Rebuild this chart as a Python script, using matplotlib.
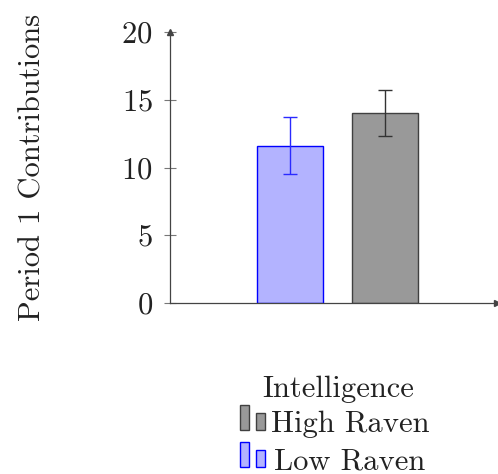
import numpy as np
import matplotlib
matplotlib.use("Agg")
import matplotlib.pyplot as plt
from matplotlib.patches import Rectangle

plt.rcParams['font.family'] = 'serif'
plt.rcParams['font.serif'] = ['cmr10']
plt.rcParams['axes.formatter.use_mathtext'] = True

groups = ["Low Raven", "High Raven"]
means = [11.6, 14.0]
errs = [2.1, 1.7]
fills = ["#b3b3ff", "#999999"]
edges = ["#0000ff", "#404040"]
ecols = ["#2a2aff", "#333333"]
yticks = [0, 5, 10, 15, 20]
legend_title = "Intelligence"
legend_order = [1, 0]   # High Raven first

W, H = 498, 474
fig = plt.figure(figsize=(W / 100, H / 100), dpi=100)
ax = fig.add_axes([170 / W, 1 - 303 / H, 327 / W, 271 / H])

x = np.arange(len(groups))
for i in range(len(groups)):
    ax.bar(x[i], means[i], width=0.69, color=fills[i], edgecolor=edges[i], lw=1)
    ax.errorbar(x[i], means[i], yerr=errs[i], color=ecols[i], capsize=5, lw=1, capthick=1)

ax.set_xlim(-1.263, 2.18)
ax.set_ylim(0, 20)
ax.set_xticks([])
ax.set_yticks(yticks)
ax.tick_params(axis='y', direction='inout', length=9, width=0.8, colors='#777777',
               labelsize=22, labelcolor='#222222', pad=8)
for s in ['top', 'right']:
    ax.spines[s].set_visible(False)
for s in ['left', 'bottom']:
    ax.spines[s].set_color('#444444')
    ax.spines[s].set_linewidth(0.9)
ax.plot(0, 1, marker='^', ms=5, color='#444444', transform=ax.transAxes, clip_on=False)
ax.plot(1, 0, marker='>', ms=5, color='#444444', transform=ax.transAxes, clip_on=False)

ax.set_ylabel("Period 1 Contributions", fontsize=22, color='#222222', labelpad=54)

# legend drawn by hand, pgfplots style (two little bars, centred labels)
def fy(py):
    return 1 - py / H

fig.text(338 / W, fy(397), legend_title, fontsize=22, color='#222222', ha='center', va='baseline')
for row, i in enumerate(legend_order):
    base = 432 + 37 * row
    fig.text(350 / W, fy(base), groups[i], fontsize=22, color='#222222', ha='center', va='baseline')
    for x0, hh in [(240, 25), (256, 17)]:
        fig.add_artist(Rectangle((x0 / W, fy(base - 2)), 9 / W, hh / H, transform=fig.transFigure,
                                 fc=fills[i], ec=edges[i], lw=1))

fig.savefig("out.png", dpi=100)
